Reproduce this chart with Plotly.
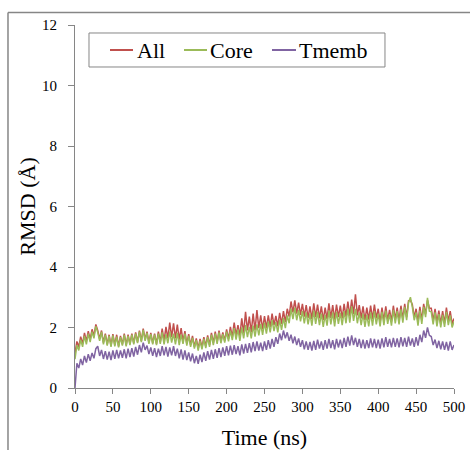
import numpy as np
import plotly.graph_objects as go

# Simulation time axis (ns), one sample every 2.5 ns
time_ns = np.arange(0, 500.01, 2.5)

rmsd_all = [
    1.15, 1.54, 1.36, 1.70, 1.46, 1.82, 1.54, 1.88, 1.60, 1.94,
    1.72, 2.10, 1.90, 1.62, 1.90, 1.50, 1.80, 1.44, 1.76, 1.40,
    1.78, 1.42, 1.76, 1.38, 1.72, 1.44, 1.80, 1.42, 1.76, 1.46,
    1.80, 1.48, 1.84, 1.52, 1.90, 1.56, 1.96, 1.60, 1.86, 1.50,
    1.82, 1.48, 1.80, 1.46, 1.86, 1.52, 1.96, 1.56, 2.02, 1.64,
    2.16, 1.68, 2.14, 1.64, 2.10, 1.60, 1.98, 1.54, 1.88, 1.46,
    1.78, 1.42, 1.72, 1.36, 1.64, 1.30, 1.62, 1.34, 1.68, 1.38,
    1.74, 1.42, 1.82, 1.48, 1.86, 1.52, 1.90, 1.54, 1.84, 1.56,
    1.94, 1.62, 2.02, 1.68, 2.16, 1.74, 2.08, 1.72, 2.30, 1.82,
    2.52, 1.90, 2.36, 1.84, 2.46, 1.90, 2.58, 1.98, 2.40, 1.94,
    2.38, 1.98, 2.40, 2.02, 2.46, 2.08, 2.38, 2.04, 2.48, 2.12,
    2.54, 2.18, 2.62, 2.36, 2.86, 2.50, 2.90, 2.46, 2.82, 2.42,
    2.78, 2.36, 2.74, 2.32, 2.70, 2.28, 2.80, 2.34, 2.76, 2.30,
    2.70, 2.24, 2.66, 2.28, 2.80, 2.32, 2.74, 2.26, 2.76, 2.34,
    2.72, 2.30, 2.78, 2.36, 2.86, 2.38, 2.92, 2.44, 3.10, 2.40,
    2.74, 2.30, 2.70, 2.24, 2.66, 2.26, 2.72, 2.28, 2.76, 2.30,
    2.62, 2.18, 2.66, 2.22, 2.70, 2.24, 2.58, 2.20, 2.72, 2.26,
    2.66, 2.22, 2.72, 2.28, 2.78, 2.34, 2.88, 2.90, 2.76, 2.34,
    2.62, 2.18, 2.68, 2.24, 2.78, 2.44, 2.90, 2.64, 2.64, 2.22,
    2.62, 2.16, 2.56, 2.12, 2.54, 2.14, 2.66, 2.20, 2.54, 2.12,
    2.30,
]

rmsd_core = [
    0.95, 1.42, 1.24, 1.60, 1.36, 1.72, 1.44, 1.80, 1.52, 1.86,
    1.64, 2.04, 1.84, 1.56, 1.86, 1.44, 1.76, 1.40, 1.72, 1.36,
    1.74, 1.38, 1.70, 1.34, 1.68, 1.40, 1.76, 1.38, 1.72, 1.42,
    1.76, 1.44, 1.80, 1.48, 1.86, 1.52, 1.92, 1.56, 1.82, 1.46,
    1.78, 1.44, 1.76, 1.42, 1.80, 1.46, 1.84, 1.44, 1.78, 1.48,
    1.86, 1.50, 1.80, 1.44, 1.82, 1.42, 1.76, 1.46, 1.80, 1.40,
    1.72, 1.36, 1.66, 1.30, 1.58, 1.24, 1.56, 1.28, 1.62, 1.32,
    1.68, 1.36, 1.76, 1.42, 1.80, 1.46, 1.84, 1.48, 1.78, 1.50,
    1.86, 1.54, 1.90, 1.58, 1.98, 1.60, 1.94, 1.56, 2.00, 1.64,
    2.08, 1.68, 2.02, 1.64, 2.06, 1.70, 2.10, 1.74, 2.12, 1.76,
    2.16, 1.80, 2.20, 1.84, 2.24, 1.88, 2.18, 1.84, 2.26, 1.92,
    2.32, 1.98, 2.40, 2.14, 2.62, 2.28, 2.66, 2.24, 2.58, 2.20,
    2.54, 2.14, 2.50, 2.10, 2.46, 2.06, 2.56, 2.12, 2.52, 2.08,
    2.46, 2.02, 2.42, 2.06, 2.56, 2.10, 2.50, 2.04, 2.52, 2.12,
    2.48, 2.08, 2.54, 2.14, 2.62, 2.16, 2.70, 2.22, 2.62, 2.14,
    2.50, 2.08, 2.46, 2.02, 2.42, 2.04, 2.50, 2.06, 2.54, 2.10,
    2.46, 2.04, 2.52, 2.08, 2.56, 2.12, 2.44, 2.06, 2.58, 2.14,
    2.54, 2.10, 2.60, 2.16, 2.68, 2.24, 2.82, 3.00, 2.68, 2.24,
    2.50, 2.06, 2.56, 2.12, 2.68, 2.34, 2.98, 2.54, 2.52, 2.10,
    2.50, 2.04, 2.44, 2.00, 2.42, 2.02, 2.52, 2.08, 2.40, 2.00,
    2.20,
]

rmsd_tmemb = [
    0.00, 0.82, 0.66, 0.96, 0.76, 1.06, 0.84, 1.12, 0.90, 1.16,
    0.98, 1.30, 1.38, 1.06, 1.26, 0.96, 1.22, 0.94, 1.20, 0.92,
    1.24, 0.96, 1.26, 0.98, 1.24, 1.00, 1.28, 0.98, 1.30, 1.02,
    1.32, 1.04, 1.36, 1.10, 1.42, 1.18, 1.50, 1.26, 1.40, 1.12,
    1.34, 1.06, 1.32, 1.02, 1.30, 1.06, 1.38, 1.08, 1.36, 1.04,
    1.34, 1.08, 1.38, 1.06, 1.30, 0.98, 1.28, 0.94, 1.24, 0.92,
    1.18, 0.88, 1.14, 0.82, 1.06, 0.80, 1.10, 0.86, 1.18, 0.90,
    1.22, 0.94, 1.26, 0.96, 1.28, 1.00, 1.32, 1.02, 1.34, 1.06,
    1.38, 1.08, 1.40, 1.10, 1.42, 1.12, 1.38, 1.08, 1.44, 1.14,
    1.46, 1.16, 1.48, 1.18, 1.52, 1.22, 1.54, 1.24, 1.50, 1.22,
    1.54, 1.26, 1.58, 1.30, 1.62, 1.36, 1.68, 1.46, 1.80, 1.58,
    1.90, 1.64, 1.84, 1.56, 1.76, 1.48, 1.70, 1.42, 1.64, 1.36,
    1.58, 1.28, 1.54, 1.26, 1.52, 1.24, 1.56, 1.26, 1.60, 1.30,
    1.54, 1.26, 1.58, 1.30, 1.62, 1.32, 1.58, 1.28, 1.62, 1.34,
    1.60, 1.32, 1.66, 1.36, 1.70, 1.40, 1.74, 1.42, 1.66, 1.36,
    1.62, 1.32, 1.60, 1.30, 1.58, 1.32, 1.64, 1.34, 1.62, 1.32,
    1.60, 1.30, 1.64, 1.34, 1.68, 1.36, 1.62, 1.34, 1.66, 1.36,
    1.64, 1.34, 1.68, 1.38, 1.66, 1.36, 1.70, 1.40, 1.64, 1.36,
    1.68, 1.40, 1.76, 1.52, 1.90, 1.66, 2.00, 1.74, 1.70, 1.42,
    1.60, 1.32, 1.56, 1.28, 1.54, 1.26, 1.52, 1.24, 1.54, 1.26,
    1.42,
]

series_names = ["All", "Core", "Tmemb"]
series_colors = ["#C0504D", "#9BBB59", "#8064A2"]
series_values = [rmsd_all, rmsd_core, rmsd_tmemb]

serif = "Liberation Serif"
axis_grey = "#868686"

fig = go.Figure()
for name, color, values in zip(series_names, series_colors, series_values):
    fig.add_trace(go.Scatter(
        x=time_ns, y=values, name=name, mode="lines",
        line=dict(color=color, width=1.5, simplify=False),
        showlegend=False,
    ))

# Boxed legend drawn in plot-area (paper) coordinates
shapes = [
    dict(type="rect", xref="paper", yref="paper",
         x0=0.0369, x1=0.8179, y0=0.8843, y1=0.978,
         line=dict(color=axis_grey, width=1), fillcolor="white", layer="above"),
    # outer page frame: top and left rules
    dict(type="line", xref="paper", yref="paper",
         x0=-0.1768, x1=1.05, y0=1.0344, y1=1.0344,
         line=dict(color=axis_grey, width=1.5)),
    dict(type="line", xref="paper", yref="paper",
         x0=-0.1768, x1=-0.1768, y0=1.0344, y1=-0.2,
         line=dict(color=axis_grey, width=1.5)),
]
annotations = []
legend_items = [
    (0.0923, 0.1530, 0.1583),
    (0.2876, 0.3483, 0.3509),
    (0.5198, 0.5831, 0.5858),
]
for (lx0, lx1, tx), name, color in zip(legend_items, series_names, series_colors):
    shapes.append(dict(type="line", xref="paper", yref="paper",
                       x0=lx0, x1=lx1, y0=0.9311, y1=0.9311,
                       line=dict(color=color, width=2), layer="above"))
    annotations.append(dict(xref="paper", yref="paper", x=tx, y=0.9311,
                            text=name, showarrow=False, xanchor="left",
                            yanchor="middle",
                            font=dict(family=serif, size=22, color="black")))

fig.update_layout(
    width=470, height=450,
    margin=dict(l=75, r=16, t=25, b=62),
    font=dict(family=serif, color="black"),
    paper_bgcolor="white", plot_bgcolor="white",
    shapes=shapes, annotations=annotations,
    showlegend=False,
)
fig.update_xaxes(
    range=[0, 500], tickmode="array", tickvals=list(range(0, 501, 50)),
    showgrid=False, zeroline=False, showline=True, linecolor=axis_grey,
    linewidth=1, ticks="outside", ticklen=5, tickcolor=axis_grey,
    tickfont=dict(family=serif, size=15, color="black"),
    automargin=False,
    title=dict(text="Time (ns)", font=dict(family=serif, size=22, color="black"),
               standoff=18),
)
fig.update_yaxes(
    range=[0, 12], tickmode="array", tickvals=list(range(0, 13, 2)),
    showgrid=False, zeroline=False, showline=True, linecolor=axis_grey,
    linewidth=1, ticks="outside", ticklen=6, tickcolor=axis_grey,
    ticklabelstandoff=8, automargin=False,
    tickfont=dict(family=serif, size=15, color="black"),
    title=dict(text="RMSD (Å)", font=dict(family=serif, size=22, color="black"),
               standoff=0),
)

fig.write_html("out.html")
